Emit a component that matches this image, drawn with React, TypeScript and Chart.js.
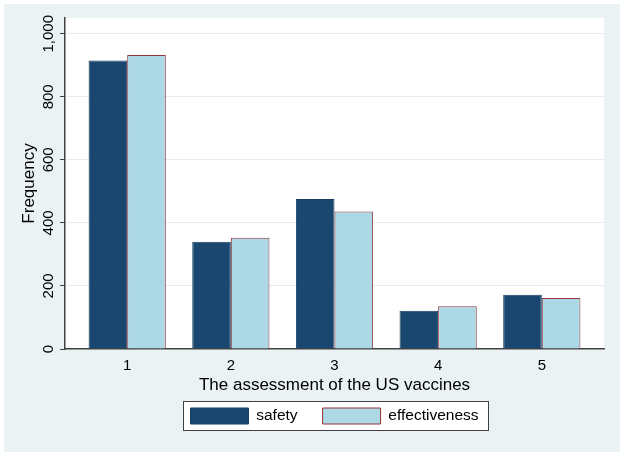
import React, { useEffect, useRef } from "react";
import { Chart, registerables } from "chart.js";

Chart.register(...registerables);

const categories = [1, 2, 3, 4, 5];
const safety = [915, 340, 476, 121, 172];
const effectiveness = [933, 353, 436, 136, 162];
const yTicks = [0, 200, 400, 600, 800, 1000];
const seriesNames = ["safety", "effectiveness"];
const xTitle = "The assessment of the US vaccines";
const yTitle = "Frequency";

const AXIS = "#404040";
const GRID = "#e4ecef";

const bgPlugin = {
  id: "bgPlugin",
  beforeDraw(chart: any) {
    const { ctx, chartArea } = chart;
    ctx.save();
    ctx.fillStyle = "#ffffff";
    ctx.fillRect(chartArea.left, chartArea.top, chartArea.right - chartArea.left, chartArea.bottom - chartArea.top);
    const lg = chart.legend;
    if (lg && lg.legendHitBoxes && lg.legendHitBoxes.length) {
      const hb = lg.legendHitBoxes;
      const left = Math.min(...hb.map((h: any) => h.left)) - 7;
      const right = Math.max(...hb.map((h: any) => h.left + h.width)) + 10;
      const top = hb[0].top - 7;
      const bottom = hb[0].top + hb[0].height + 6;
      const l = Math.round(left) + 0.5;
      const t = Math.round(top) + 0.5;
      const w = Math.round(right - left);
      const h = Math.round(bottom - top);
      ctx.fillStyle = "#ffffff";
      ctx.fillRect(l, t, w, h);
      ctx.strokeStyle = AXIS;
      ctx.lineWidth = 1;
      ctx.strokeRect(l, t, w, h);
    }
    ctx.restore();
  },
};

export default function App() {
  const ref = useRef<HTMLCanvasElement | null>(null);

  useEffect(() => {
    if (!ref.current) return;
    Chart.defaults.font.family = "'Liberation Sans', Arial, sans-serif";
    Chart.defaults.color = "#000000";
    const chart = new Chart(ref.current, {
      type: "bar",
      data: {
        datasets: [
          {
            label: seriesNames[0],
            data: categories.map((c, i) => ({ x: c, y: safety[i] })),
            backgroundColor: "#1a476f",
            borderColor: "#173e62",
            borderWidth: 1,
          },
          {
            label: seriesNames[1],
            data: categories.map((c, i) => ({ x: c, y: effectiveness[i] })),
            backgroundColor: "#add8e6",
            borderColor: "#90353b",
            borderWidth: 1,
          },
        ],
      },
      options: {
        animation: false,
        responsive: false,
        devicePixelRatio: 1,
        layout: { padding: { top: 14, right: 16, bottom: 18, left: 0 } },
        datasets: {
          bar: { barPercentage: 1, categoryPercentage: 0.745 },
        },
        scales: {
          x: {
            type: "linear",
            min: 0.4,
            max: 5.6,
            offset: false,
            afterBuildTicks: (s: any) => {
              s.ticks = categories.map((v) => ({ value: v }));
            },
            afterFit: (s: any) => {
              s.height = 34;
            },
            grid: { display: false, offset: false },
            border: { display: true, color: AXIS, width: 1.5 },
            ticks: {
              font: { size: 15 },
              padding: 0,
              color: "#000",
              maxRotation: 0,
              autoSkip: false,
              callback: (v: any) => String(v),
            },
            title: {
              display: true,
              text: xTitle,
              font: { size: 17 },
              color: "#000",
              padding: { top: 0, bottom: -13 },
            },
          },
          y: {
            type: "linear",
            min: 0,
            max: 1050,
            afterBuildTicks: (s: any) => {
              s.ticks = yTicks.map((v) => ({ value: v }));
            },
            afterFit: (s: any) => {
              s.width = 61;
            },
            grid: {
              color: (c: any) => (c.tick && c.tick.value === 0 ? "rgba(0,0,0,0)" : GRID),
              lineWidth: 1,
              drawTicks: true,
              tickLength: 5,
              tickColor: AXIS,
              tickWidth: 1,
            },
            border: { display: true, color: AXIS, width: 1.5 },
            ticks: {
              font: { size: 15 },
              color: "#000",
              minRotation: 90,
              maxRotation: 90,
              crossAlign: "center",
              padding: -8,
              callback: (v: any) => Number(v).toLocaleString("en-US"),
            },
            title: {
              display: true,
              text: yTitle,
              font: { size: 17 },
              color: "#000",
              padding: { top: 15, bottom: 0 },
            },
          },
        },
        plugins: {
          legend: {
            position: "bottom",
            fullSize: false,
            labels: {
              boxWidth: 58,
              boxHeight: 16,
              padding: 25,
              font: { size: 15.5 },
              color: "#000",
            },
          },
          tooltip: { enabled: false },
        },
      } as any,
      plugins: [bgPlugin],
    });
    return () => chart.destroy();
  }, []);

  return (
    <div style={{ position: "absolute", left: 0, top: 0, width: 624, height: 456, background: "#ffffff" }}>
      <div style={{ position: "absolute", left: 4, top: 4, width: 616, height: 448, background: "#eaf2f3" }}>
        <canvas ref={ref} width={616} height={448} style={{ display: "block" }} />
      </div>
    </div>
  );
}
